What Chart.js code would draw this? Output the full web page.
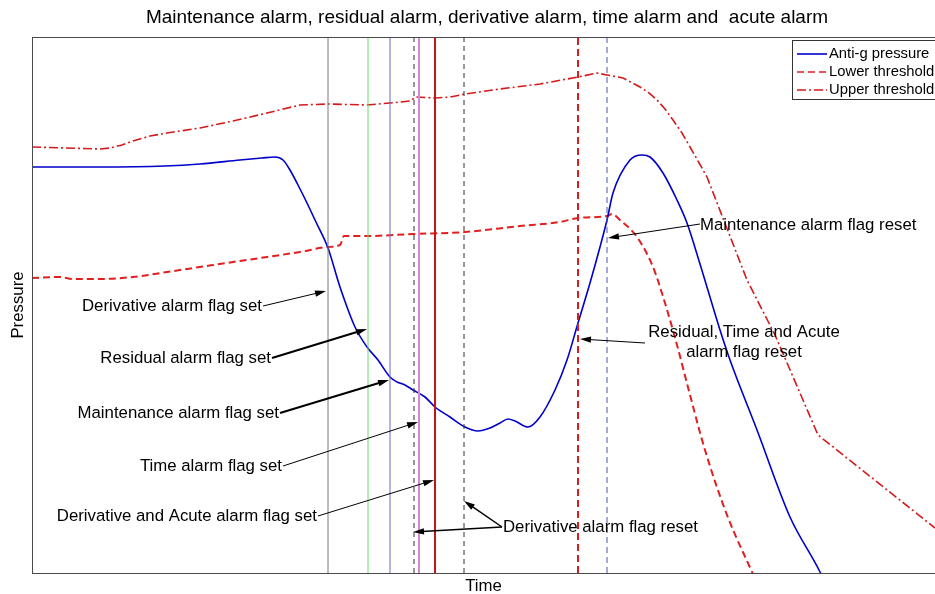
<!DOCTYPE html>
<html>
<head>
<meta charset="utf-8">
<script src="https://cdn.jsdelivr.net/npm/chart.js@4.4.1/dist/chart.umd.min.js"></script>
<style>
  html, body { margin: 0; padding: 0; background: #fff; }
  #wrap { width: 935px; height: 594px; }
</style>
</head>
<body>
<div id="wrap"><canvas id="alarmChart" width="935" height="594"></canvas></div>
<script>
// time in samples, pressure in raw counts
const pressureT = [0, 68, 133, 168, 208, 230, 243, 251, 258, 266, 275, 283, 296, 308, 323, 335, 346, 358, 365, 373, 381, 393, 403, 418, 433, 446, 458, 468, 476, 483, 496, 508, 523, 535, 546, 558, 568, 575, 581, 598, 610, 618, 631, 645, 655, 668, 688, 698, 725, 758, 788, 792];
const pressureP = [406, 406, 407, 409, 413, 415, 416, 413, 403, 388, 370, 353, 325, 286, 246, 226, 213, 196, 191, 188, 183, 176, 166, 156, 146, 142, 145, 150, 154, 152, 146, 156, 183, 213, 250, 290, 326, 353, 380, 413, 418, 416, 400, 373, 350, 309, 243, 213, 143, 56, 1, -8];

const lowerT = [0, 28, 41, 68, 101, 135, 168, 201, 235, 268, 296, 308, 312, 335, 381, 433, 488, 528, 546, 575, 580, 588, 605, 621, 633, 645, 658, 673, 695, 720, 724];
const lowerP = [295, 296, 294, 294, 296, 301, 306, 311, 316, 321, 326, 328, 337, 337, 339, 341, 347, 351, 355, 357, 359, 353, 336, 306, 270, 228, 178, 123, 58, 1, -8];

const upperT = [0, 68, 78, 90, 101, 118, 135, 168, 201, 235, 268, 296, 335, 358, 378, 384, 403, 418, 433, 468, 508, 546, 565, 575, 591, 608, 617, 625, 633, 641, 650, 658, 666, 675, 715, 743, 768, 786, 903];
const upperP = [426, 424, 425, 428, 432, 437, 440, 445, 452, 460, 468, 469, 468, 470, 472, 476, 475, 476, 479, 484, 489, 496, 500, 498, 495, 486, 480, 473, 464, 453, 440, 426, 412, 396, 293, 238, 180, 138, 45];

// alarm event times
const eventNames = ['deriv set', 'residual set', 'maint set', 'deriv reset 1', 'time set', 'acute set', 'deriv reset 2', 'residual/time/acute reset', 'maint reset'];
const eventT = [296, 336, 358, 382, 387, 403, 432, 546, 575];
const eventColor = ['#7a7a7a', '#6cd86c', '#6a6ac4', '#303030', '#d488d4', '#c41414', '#303030', '#d42020', '#4a58b4'];
const eventWidth = [1, 1, 1, 1, 2, 2, 1, 2, 1];
const eventDash = [[], [], [], [5, 4], [], [], [5, 4], [7, 4], [6, 4]];

const X_MAX = 903;
const Y_MAX = 536;

const toPoints = (xs, ys) => xs.map((x, i) => ({ x: x, y: ys[i] }));

const datasets = [];
eventT.forEach((t, i) => {
    datasets.push({
        label: eventNames[i],
        data: [{ x: t, y: 0 }, { x: t, y: Y_MAX }],
        borderColor: eventColor[i],
        borderWidth: eventWidth[i],
        borderDash: eventDash[i],
        pointRadius: 0,
        clip: 0
    });
});
datasets.push({
    label: 'Anti-g pressure',
    data: toPoints(pressureT, pressureP),
    borderColor: '#0000cc',
    borderWidth: 1.6,
    cubicInterpolationMode: 'monotone',
    pointRadius: 0,
    clip: 0
});
datasets.push({
    label: 'Lower threshold',
    data: toPoints(lowerT, lowerP),
    borderColor: '#e21e1e',
    borderWidth: 2,
    borderDash: [7, 4],
    cubicInterpolationMode: 'monotone',
    pointRadius: 0,
    clip: 0
});
datasets.push({
    label: 'Upper threshold',
    data: toPoints(upperT, upperP),
    borderColor: '#d41a1a',
    borderWidth: 1.6,
    borderDash: [9, 3, 2, 3],
    tension: 0,
    pointRadius: 0,
    clip: 0
});

// annotations: text anchor and arrows in data units
const notes = [
    { lines: ['Derivative alarm flag set'], x: 230, y: 267, align: 'right', arrows: [[231, 267, 294, 282]], w: 1 },
    { lines: ['Residual alarm flag set'], x: 239, y: 215, align: 'right', arrows: [[240, 215, 335, 244]], w: 2 },
    { lines: ['Maintenance alarm flag set'], x: 247, y: 160, align: 'right', arrows: [[248, 160, 357, 193]], w: 2 },
    { lines: ['Time alarm flag set'], x: 250, y: 107, align: 'right', arrows: [[251, 107, 386, 151]], w: 1 },
    { lines: ['Derivative and Acute alarm flag set'], x: 285, y: 57, align: 'right', arrows: [[286, 57, 402, 93]], w: 1 },
    { lines: ['Derivative alarm flag reset'], x: 471, y: 46, align: 'left', arrows: [[470, 46, 432, 72], [470, 46, 381, 41]], w: 1.5 },
    { lines: ['Maintenance alarm flag reset'], x: 668, y: 348, align: 'left', arrows: [[668, 349, 576, 335]], w: 1 },
    { lines: ['Residual, Time and Acute', 'alarm flag reset'], x: 712, y: 241, align: 'center', arrows: [[613, 230, 548, 234]], w: 1 }
];

const FONT = '"Liberation Sans", Arial, sans-serif';

function arrow(ctx, x1, y1, x2, y2, w) {
    const ang = Math.atan2(y2 - y1, x2 - x1);
    const len = 11, half = 3.2;
    ctx.strokeStyle = '#000';
    ctx.fillStyle = '#000';
    ctx.lineWidth = w;
    ctx.beginPath();
    ctx.moveTo(x1, y1);
    ctx.lineTo(x2 - Math.cos(ang) * len * 0.8, y2 - Math.sin(ang) * len * 0.8);
    ctx.stroke();
    ctx.beginPath();
    ctx.moveTo(x2, y2);
    ctx.lineTo(x2 - Math.cos(ang) * len - Math.sin(ang) * half, y2 - Math.sin(ang) * len + Math.cos(ang) * half);
    ctx.lineTo(x2 - Math.cos(ang) * len + Math.sin(ang) * half, y2 - Math.sin(ang) * len - Math.cos(ang) * half);
    ctx.closePath();
    ctx.fill();
}

const decorPlugin = {
    id: 'decor',
    beforeDraw(chart) {
        const ctx = chart.ctx;
        ctx.save();
        ctx.fillStyle = '#fff';
        ctx.fillRect(0, 0, chart.width, chart.height);
        ctx.restore();
    },
    afterDatasetsDraw(chart) {
        const ctx = chart.ctx;
        const a = chart.chartArea;
        const xs = chart.scales.x, ys = chart.scales.y;
        ctx.save();

        // frame
        ctx.strokeStyle = '#4a4a4a';
        ctx.lineWidth = 1;
        ctx.strokeRect(a.left + 0.5, a.top + 0.5, a.right - a.left, a.bottom - a.top);

        // title and axis labels
        ctx.fillStyle = '#000';
        ctx.textBaseline = 'middle';
        ctx.textAlign = 'center';
        ctx.font = '19px ' + FONT;
        ctx.fillText('Maintenance alarm, residual alarm, derivative alarm, time alarm and  acute alarm', 487, 18);
        ctx.font = '16.8px ' + FONT;
        ctx.fillText('Time', (a.left + a.right) / 2, 586);
        ctx.save();
        ctx.translate(18, (a.top + a.bottom) / 2);
        ctx.rotate(-Math.PI / 2);
        ctx.fillText('Pressure', 0, 0);
        ctx.restore();

        // annotations
        ctx.font = '16.8px ' + FONT;
        notes.forEach(n => {
            ctx.textAlign = n.align;
            const px = xs.getPixelForValue(n.x);
            const py = ys.getPixelForValue(n.y);
            n.lines.forEach((line, i) => {
                ctx.fillStyle = '#000';
                ctx.fillText(line, px, py + i * 20);
            });
            n.arrows.forEach(ar => {
                arrow(ctx, xs.getPixelForValue(ar[0]), ys.getPixelForValue(ar[1]),
                    xs.getPixelForValue(ar[2]), ys.getPixelForValue(ar[3]), n.w);
            });
        });

        // legend
        const legendSets = chart.data.datasets.slice(eventT.length);
        const lx = 792, ly = 40;
        ctx.fillStyle = '#fff';
        ctx.fillRect(lx, ly, a.right - lx, 59);
        ctx.strokeStyle = '#333';
        ctx.lineWidth = 1;
        ctx.strokeRect(lx + 0.5, ly + 0.5, a.right - lx + 5, 59);
        ctx.font = '14.8px ' + FONT;
        ctx.textAlign = 'left';
        legendSets.forEach((ds, i) => {
            const y = 54 + i * 18;
            ctx.strokeStyle = ds.borderColor;
            ctx.lineWidth = ds.borderWidth > 1.5 ? 1.6 : 1.3;
            ctx.setLineDash(ds.borderDash || []);
            ctx.beginPath();
            ctx.moveTo(797, y);
            ctx.lineTo(827, y);
            ctx.stroke();
            ctx.setLineDash([]);
            ctx.fillStyle = '#000';
            ctx.fillText(ds.label, 829, y);
        });
        ctx.restore();
    }
};

new Chart(document.getElementById('alarmChart'), {
    type: 'line',
    data: { datasets: datasets },
    options: {
        responsive: false,
        animation: false,
        layout: { padding: { left: 32, top: 37, right: 0, bottom: 21 } },
        plugins: {
            legend: { display: false },
            tooltip: { enabled: false },
            title: { display: false }
        },
        scales: {
            x: { type: 'linear', min: 0, max: X_MAX, display: false },
            y: { type: 'linear', min: 0, max: Y_MAX, display: false }
        }
    },
    plugins: [decorPlugin]
});
</script>
</body>
</html>
